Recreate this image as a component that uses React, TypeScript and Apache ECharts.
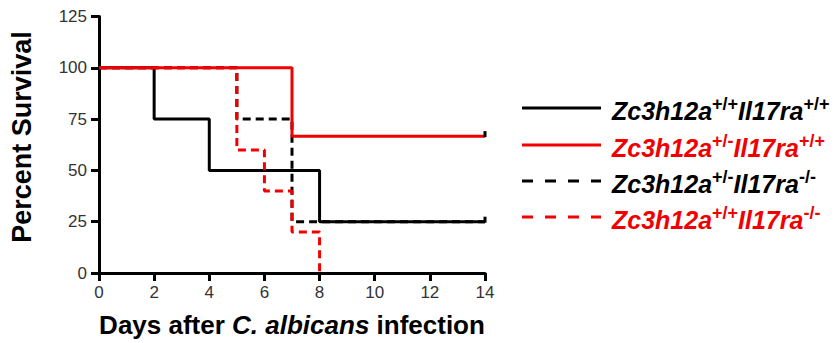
import React, { useEffect, useRef } from "react";
import * as echarts from "echarts";

const xTicks = [0, 2, 4, 6, 8, 10, 12, 14];
const yTicks = [0, 25, 50, 75, 100, 125];

// Kaplan-Meier step points [day, percent]
const wtWt: [number, number][] = [[0, 100], [2, 75], [4, 50], [8, 25], [14, 25]];
const hetWt: [number, number][] = [[0, 100], [7, 66.7], [14, 66.7]];
const hetKo: [number, number][] = [[0, 100], [5, 75], [7, 25], [14, 25]];
const wtKo: [number, number][] = [[0, 100], [5, 60], [6, 40], [7, 20], [8, 0]];

const seriesNames = [
  "Zc3h12a+/+Il17ra+/+",
  "Zc3h12a+/-Il17ra+/+",
  "Zc3h12a+/-Il17ra-/-",
  "Zc3h12a+/+Il17ra-/-",
];
const legendTexts = [
  "{a|Zc3h12a}{s|+/+}{a|Il17ra}{s|+/+}",
  "{a|Zc3h12a}{s|+/-}{a|Il17ra}{s|+/+}",
  "{a|Zc3h12a}{s|+/-}{a|Il17ra}{s|-/-}",
  "{a|Zc3h12a}{s|+/+}{a|Il17ra}{s|-/-}",
];

const RED = "#f20000";
const FONT = "Arial, 'Liberation Sans', sans-serif";

function withCensor(pts: [number, number][], censored: boolean) {
  return pts.map((p, i) =>
    censored && i === pts.length - 1
      ? { value: p, symbol: "rect", symbolSize: [3, 6], symbolOffset: [0, -2], itemStyle: { color: "#000" } }
      : { value: p }
  );
}

export default function App() {
  const ref = useRef<HTMLDivElement>(null);
  useEffect(() => {
    if (!ref.current) return;
    const chart = echarts.init(ref.current, null, { renderer: "svg" });
    const colors = ["#000", RED, "#000", RED];
    const dashed = [false, false, true, true];
    const legendY = [108, 145, 181, 217];
    const legendGraphics: any[] = [];
    legendY.forEach((y, i) => {
      legendGraphics.push({
        type: "line",
        shape: { x1: 522, y1: y, x2: 601, y2: y },
        style: { stroke: colors[i], lineWidth: 3, lineDash: dashed[i] ? [11, 12] : null },
      });
      legendGraphics.push({
        type: "text",
        x: 612,
        y: y + 1,
        style: {
          text: legendTexts[i],
          verticalAlign: "middle",
          rich: {
            a: { fontFamily: FONT, fontSize: 25, fontWeight: "bold", fontStyle: "italic", fill: colors[i], lineHeight: 29, verticalAlign: "bottom" },
            s: { fontFamily: FONT, fontSize: 18, fontWeight: "bold", fill: colors[i], lineHeight: 29, verticalAlign: "top" },
          },
        },
      });
    });
    legendGraphics.push({
      type: "text",
      x: 22,
      y: 137,
      rotation: Math.PI / 2,
      style: {
        text: "Percent Survival",
        fontFamily: FONT,
        fontSize: 27,
        fontWeight: "bold",
        fill: "#000",
        align: "center",
        verticalAlign: "middle",
      },
    });

    const mkSeries = (name: string, pts: [number, number][], color: string, dash: boolean, censored: boolean, z: number) => ({
      name,
      type: "line",
      step: "end",
      data: withCensor(pts, censored),
      symbol: "none",
      showSymbol: true,
      z,
      lineStyle: { color, width: 3, type: dash ? [8, 5] : "solid", cap: "butt" },
      itemStyle: { color },
    });

    chart.setOption({
      animation: false,
      grid: { left: 99, right: 350, top: 16.5, bottom: 69 },
      xAxis: {
        type: "value",
        min: 0,
        max: 14,
        interval: 2,
        name: "{n|Days after }{i|C. albicans}{n| infection}",
        nameLocation: "middle",
        nameGap: 39,
        nameTextStyle: {
          rich: {
            n: { fontFamily: FONT, fontSize: 26, fontWeight: "bold", color: "#000" },
            i: { fontFamily: FONT, fontSize: 26, fontWeight: "bold", fontStyle: "italic", color: "#000" },
          },
        },
        axisLine: { show: true, onZero: false, lineStyle: { color: "#000", width: 3 } },
        axisTick: { show: true, length: 8, lineStyle: { color: "#000", width: 3 } },
        axisLabel: { fontFamily: FONT, fontSize: 17, color: "#333", margin: 11, formatter: (v: number) => (xTicks.includes(v) ? String(v) : "") },
        splitLine: { show: false },
      },
      yAxis: {
        type: "value",
        min: 0,
        max: 125,
        interval: 25,
        axisLine: { show: true, lineStyle: { color: "#000", width: 3 } },
        axisTick: { show: true, length: 8, lineStyle: { color: "#000", width: 3 } },
        axisLabel: { fontFamily: FONT, fontSize: 17, color: "#333", margin: 12, formatter: (v: number) => (yTicks.includes(v) ? String(v) : "") },
        splitLine: { show: false },
      },
      series: [
        mkSeries(seriesNames[0], wtWt, "#000", false, true, 2),
        mkSeries(seriesNames[2], hetKo, "#000", true, false, 3),
        mkSeries(seriesNames[1], hetWt, RED, false, true, 4),
        mkSeries(seriesNames[3], wtKo, RED, true, false, 5),
      ],
      graphic: legendGraphics,
    });
    return () => chart.dispose();
  }, []);
  return <div ref={ref} style={{ width: 835, height: 343, position: "absolute", left: 0, top: 0 }} />;
}
